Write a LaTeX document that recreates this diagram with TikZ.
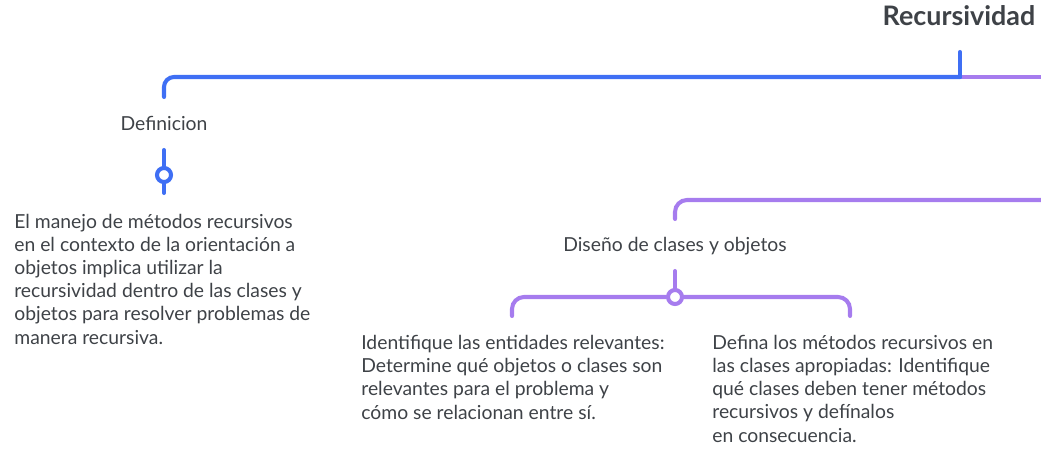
\documentclass[tikz,border=0pt]{standalone}
\usepackage{fontspec}
\setmainfont{Lato}
\definecolor{linkblue}{HTML}{3F6FF4}
\definecolor{linkpurple}{HTML}{A67CEE}
\definecolor{inkgrey}{HTML}{3E4247}
\begin{document}
\begin{tikzpicture}[x=0.02cm, y=-0.02cm,
		bluelink/.style={draw=linkblue, line width=2.3pt, line cap=round},
		purplelink/.style={draw=linkpurple, line width=2.3pt, line cap=round},
		knob/.style={circle, fill=white, line width=2.3pt, minimum size=0.28cm, inner sep=0pt},
		para/.style={inkgrey, align=left, inner sep=0pt, anchor=base west, font=\fontsize{11}{13.2}\selectfont},
		topic/.style={inkgrey, inner sep=0pt, anchor=base, font=\fontsize{11}{13.2}\selectfont}]
		\useasboundingbox (0,0) rectangle (1041,449);

		% title and the main bar
		\node[inkgrey, inner sep=0pt, anchor=base, font=\fontsize{15.3}{18}\bfseries\selectfont] (title) at (959,26) {Recursividad};
		\coordinate (stem) at (960,52);
		\coordinate (hub) at (960,77);
		\coordinate (rightend) at (1050,77);

		\draw[purplelink] (hub) -- (rightend);
		\draw[bluelink] (stem) -- (hub);
		\draw[bluelink, rounded corners=0.2cm] (hub) -| (164,97);

		% Definicion
		\node[topic] (defin) at (164,131) {Definicion};
		\node[knob, draw=linkblue] (k1) at (164,175) {};
		\draw[bluelink] (164,150) -- (k1.north);
		\draw[bluelink] (k1.south) -- (164,193);
		\node[para] (defintext) at (14,344) {El manejo de métodos recursivos\\en el contexto de la orientación a\\objetos implica utilizar la\\recursividad dentro de las clases y\\objetos para resolver problemas de\\manera recursiva.};

		% Diseno de clases y objetos
		\coordinate (rightend2) at (1050,200);
		\draw[purplelink, rounded corners=0.24cm] (rightend2) -| (675,219);
		\node[topic] (diseno) at (675,252) {Diseño de clases y objetos};
		\node[knob, draw=linkpurple] (k2) at (675,297) {};
		\draw[purplelink] (675,271) -- (k2.north);
		\draw[purplelink, rounded corners=0.24cm] (k2.west) -| (512,316);
		\draw[purplelink, rounded corners=0.24cm] (k2.east) -| (850,316);

		\node[para] (identtext) at (361,419) {Identifique las entidades relevantes:\\Determine qué objetos o clases son\\relevantes para el problema y\\cómo se relacionan entre sí.};
		\node[para] (definatext) at (712,442) {Defina los métodos recursivos en\\las clases apropiadas: Identifique\\qué clases deben tener métodos\\recursivos y defínalos\\en consecuencia.};
	\end{tikzpicture}
\end{document}
